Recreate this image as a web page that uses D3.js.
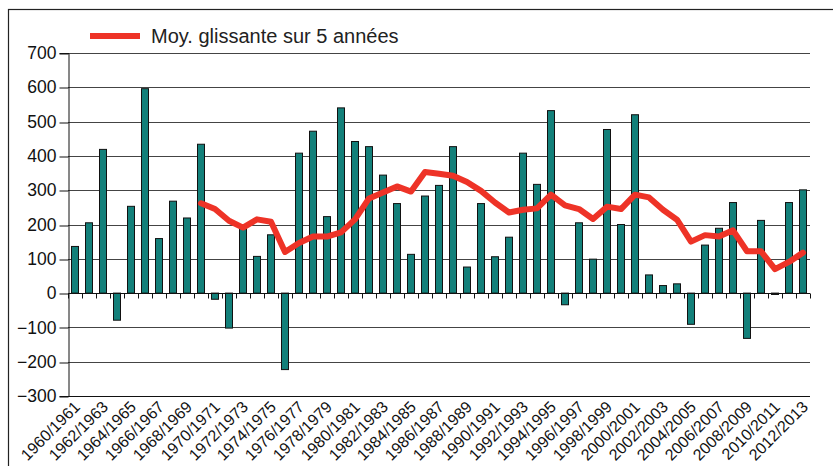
<!DOCTYPE html>
<html>
<head>
<meta charset="utf-8">
<script src="https://cdn.jsdelivr.net/npm/d3@7"></script>
<style>
    body { margin: 0; background: #fff; }
    svg { display: block; font-family: "Liberation Sans", Arial, sans-serif; }
</style>
</head>
<body>
<div id="chart"></div>
<script>
// Seasons 1960/1961 .. 2012/2013
const seasons = d3.range(1960, 2013).map(y => `${y}/${y + 1}`);

// Yearly values (bars)
const yearlyValues = [
    136, 205, 419, -79, 253, 596, 159, 268, 219, 434,
    -18, -102, 192, 107, 170, -223, 408, 472, 223, 540,
    442, 427, 344, 261, 113, 283, 314, 427, 76, 261,
    106, 163, 408, 317, 532, -34, 205, 99, 477, 200,
    520, 53, 22, 27, -91, 140, 189, 264, -132, 212,
    -4, 264, 301
];

// Moving average (red line), starts at 1969/1970
const movingStart = 9;
const movingAvg = [
    262, 245, 211, 191, 215, 208, 120, 146, 165, 165,
    177, 215, 276, 293, 311, 296, 353, 348, 342, 324,
    298, 264, 235, 243, 247, 287, 256, 245, 216, 252,
    245, 287, 279, 243, 214, 150, 169, 165, 183, 122,
    122, 70, 91, 118
];

const yTicks = [-300, -200, -100, 0, 100, 200, 300, 400, 500, 600, 700];
const legendLabel = "Moy. glissante sur 5 années";

const width = 833, height = 466;
const margin = { top: 53, right: 23, bottom: 70, left: 68 };

const svg = d3.select("#chart").append("svg")
    .attr("width", width)
    .attr("height", height);

// outer frame (runs off the right and bottom edges)
svg.append("rect")
    .attr("x", 8.5).attr("y", 9.5)
    .attr("width", 900).attr("height", 600)
    .attr("fill", "none")
    .attr("stroke", "#222")
    .attr("stroke-width", 1.2);

const x = d3.scaleBand()
    .domain(seasons)
    .range([margin.left, width - margin.right]);

const y = d3.scaleLinear()
    .domain([-300, 700])
    .range([height - margin.bottom, margin.top]);

// gridlines
svg.append("g")
    .selectAll("line")
    .data(yTicks)
    .join("line")
    .attr("x1", margin.left)
    .attr("x2", width - margin.right)
    .attr("y1", d => Math.round(y(d)) + 0.5)
    .attr("y2", d => Math.round(y(d)) + 0.5)
    .attr("stroke", d => d === -300 ? "#111" : "#444")
    .attr("stroke-width", 1.2);

// y axis
const yAxis = d3.axisLeft(y).tickValues(yTicks).tickSize(9).tickPadding(3)
    .tickFormat(d3.format("d"));
const yAxisG = svg.append("g")
    .attr("transform", `translate(${margin.left + 0.5},0)`)
    .call(yAxis);
yAxisG.select(".domain").attr("stroke", "#111");
yAxisG.selectAll(".tick line").attr("stroke", "#111")
    .attr("transform", d => `translate(0,${Math.round(y(d)) + 0.5 - y(d)})`);
yAxisG.selectAll("text")
    .attr("font-size", 17.5)
    .attr("fill", "#111")
    .attr("font-family", "Liberation Sans, Arial, sans-serif");

// bars
svg.append("g")
    .selectAll("rect")
    .data(yearlyValues)
    .join("rect")
    .attr("x", (d, i) => x(seasons[i]) + x.bandwidth() * 0.25)
    .attr("width", x.bandwidth() * 0.5)
    .attr("y", d => y(Math.max(0, d)))
    .attr("height", d => Math.abs(y(d) - y(0)))
    .attr("fill", "#13807a")
    .attr("stroke", "#111")
    .attr("stroke-width", 1);

// zero line with category ticks pointing down
const y0 = Math.round(y(0)) + 0.5;
svg.append("line")
    .attr("x1", margin.left).attr("x2", width - margin.right)
    .attr("y1", y0).attr("y2", y0)
    .attr("stroke", "#111").attr("stroke-width", 1.1);
svg.append("g")
    .selectAll("line")
    .data(seasons.concat(["end"]))
    .join("line")
    .attr("x1", (d, i) => Math.round(i < seasons.length ? x(d) : x.range()[1]) + 0.5)
    .attr("x2", (d, i) => Math.round(i < seasons.length ? x(d) : x.range()[1]) + 0.5)
    .attr("y1", y0).attr("y2", y0 + 5)
    .attr("stroke", "#111");

// x labels, every other season, rotated
svg.append("g")
    .selectAll("text")
    .data(seasons.filter((d, i) => i % 2 === 0))
    .join("text")
    .attr("transform", d => `translate(${x(d) + x.bandwidth() / 2 + 3},${y(-300) + 9}) rotate(-45)`)
    .attr("text-anchor", "end")
    .attr("dominant-baseline", "middle")
    .attr("font-size", 16)
    .attr("fill", "#111")
    .text(d => d);

// moving average line
const line = d3.line()
    .x((d, i) => x(seasons[i + movingStart]) + x.bandwidth() / 2)
    .y(d => y(d));
svg.append("path")
    .datum(movingAvg)
    .attr("d", line)
    .attr("fill", "none")
    .attr("stroke", "#ee3327")
    .attr("stroke-width", 6)
    .attr("stroke-linejoin", "round")
    .attr("stroke-linecap", "round");

// legend
const legend = svg.append("g").attr("transform", "translate(90,36)");
legend.append("line")
    .attr("x1", 0).attr("x2", 50)
    .attr("y1", 0).attr("y2", 0)
    .attr("stroke", "#ee3327")
    .attr("stroke-width", 6);
legend.append("text")
    .attr("x", 61).attr("y", 7)
    .attr("font-size", 20)
    .attr("fill", "#222")
    .text(legendLabel);
</script>
</body>
</html>
